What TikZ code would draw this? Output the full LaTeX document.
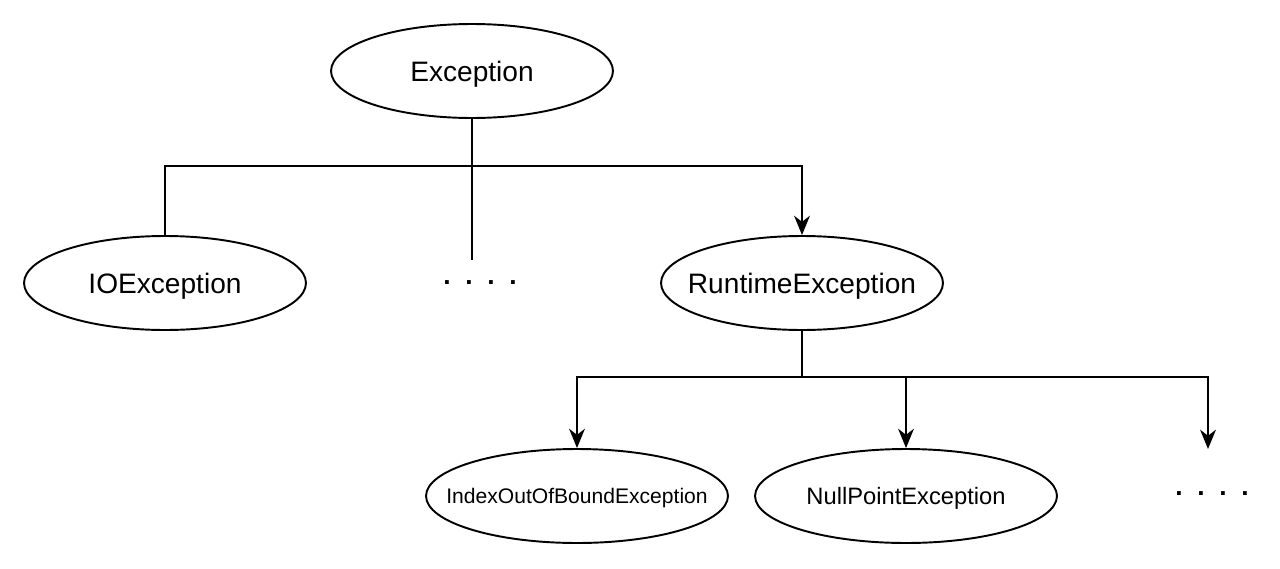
\documentclass[tikz,border=0pt]{standalone}
\usepackage{fontspec}
\setmainfont{Liberation Sans}
\usetikzlibrary{shapes.geometric,arrows.meta}

\tikzset{
    cls/.style={draw, ellipse, line width=1.1pt, inner sep=0pt,
        minimum width=5.64cm, minimum height=1.88cm, text depth=0pt,
        execute at begin node={\hbox to 0pt\bgroup\hss},
        execute at end node={\hss\egroup},
        font=\fontsize{16}{19}\selectfont},
    more/.style={font=\fontsize{15}{18}\selectfont\bfseries},
    link/.style={line width=1.1pt},
    inherit/.style={line width=1.1pt, -{Stealth[length=11pt, width=9pt, inset=3.5pt]}}
}

\begin{document}
\begin{tikzpicture}[x=0.02cm, y=-0.02cm]
    \useasboundingbox (0,0) rectangle (1280,568);

    % Classes
    \node[cls] (exc) at (472,71) {Exception};
    \node[cls] (io) at (165,283) {IOException};
    \node[more] (dotsA) at (480,283) {.\ \ .\ \ .\ \ .};
    \node[cls] (rt) at (802,283) {RuntimeException};
    \node[cls, minimum width=6.04cm, font=\fontsize{12}{14}\selectfont] (idx) at (577,496) {IndexOutOfBoundException};
    \node[cls, minimum width=6.04cm, font=\fontsize{13.5}{16}\selectfont] (npe) at (906,496) {NullPointException};
    \node[more] (dotsB) at (1212,494) {.\ \ .\ \ .\ \ .};

    % First level
    \coordinate (busA) at (472,166);
    \coordinate (midEnd) at (472,260);
    \draw[link] (exc.south) -- (busA);
    \draw[link] (busA) -- (midEnd);
    \draw[link] (busA) -| (io.north);
    \draw[inherit] (busA) -| (rt.north);

    % Second level
    \coordinate (busB) at (802,377);
    \coordinate (dotsTop) at (1208,449);
    \draw[link] (rt.south) -- (busB);
    \draw[inherit] (busB) -| (idx.north);
    \draw[inherit] (busB) -| (npe.north);
    \draw[inherit] (busB) -| (dotsTop);
\end{tikzpicture}
\end{document}
